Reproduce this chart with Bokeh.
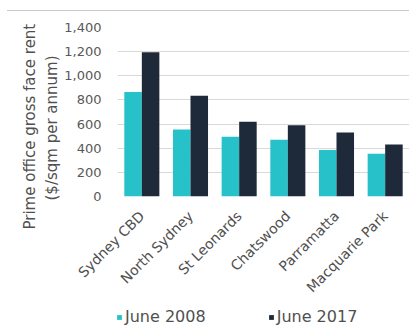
from bokeh.plotting import figure
from bokeh.layouts import column
from bokeh.models import (FactorRange, Range1d, FixedTicker, NumeralTickFormatter,
                          Legend, LegendItem, Title, InlineStyleSheet)
from bokeh.transform import dodge
from bokeh.embed import file_html
from bokeh.resources import INLINE
import math

# ---- data ----
regions = ["Sydney CBD", "North Sydney", "St Leonards", "Chatswood", "Parramatta", "Macquarie Park"]
june_2008 = [865, 555, 495, 470, 385, 355]
june_2017 = [1195, 835, 620, 590, 530, 430]
y_ticks = [0, 200, 400, 600, 800, 1000, 1200, 1400]
series_names = ["June 2008", "June 2017"]
y_title = ["Prime office gross face rent", "($/sqm per annum)"]

TEAL = "#27C1C9"
NAVY = "#1E2A3A"
FONT = "DejaVu Sans"
TXT = "#505050"

rule_css = InlineStyleSheet(css=""":host { position: relative; }
:host::before { content: ''; display: block; position: absolute; left: 7px; top: 10px;
  width: 402px; height: 1px; background: #c8c8c8; z-index: 1000; pointer-events: none; }""")

p = figure(width=409, height=307, x_range=FactorRange(*regions), y_range=Range1d(0, 1400),
           output_backend="svg", toolbar_location=None,
           min_border_left=117, min_border_right=0, min_border_top=27, min_border_bottom=111,
           stylesheets=[rule_css])
p.outline_line_color = None
p.background_fill_color = "white"
p.border_fill_color = None

src = dict(region=regions, a=june_2008, b=june_2017)
p.vbar(x=dodge("region", -0.18, range=p.x_range), top="a", width=0.36, source=src,
       fill_color=TEAL, line_color=None)
p.vbar(x=dodge("region", 0.18, range=p.x_range), top="b", width=0.36, source=src,
       fill_color=NAVY, line_color=None)

# axes
p.xgrid.grid_line_color = None
p.ygrid.grid_line_color = "#d9d9d9"
p.ygrid.ticker = FixedTicker(ticks=y_ticks)

p.yaxis.ticker = FixedTicker(ticks=y_ticks)
p.yaxis.formatter = NumeralTickFormatter(format="0,0")
p.yaxis.axis_line_color = None
p.yaxis.major_tick_line_color = None
p.yaxis.minor_tick_line_color = None
p.yaxis.major_tick_out = 0
p.yaxis.major_label_standoff = 16
p.yaxis.major_label_text_font = FONT
p.yaxis.major_label_text_font_size = "13px"
p.yaxis.major_label_text_color = "#595959"

# y title: two left-side lines, shifted down a little like the reference
for line, off in [(y_title[1], -4), (y_title[0], -33)]:
    p.add_layout(Title(text=line, align="left", offset=off, text_font=FONT,
                       text_font_size="15px", text_font_style="normal",
                       text_color=TXT, standoff=2), "left")

p.xaxis.axis_line_color = None
p.xaxis.major_tick_line_color = None
p.xaxis.major_tick_out = 0
p.xaxis.major_label_orientation = math.pi / 4
p.xaxis.major_label_standoff = 17
p.xaxis.major_label_text_font = FONT
p.xaxis.major_label_text_font_size = "14px"
p.xaxis.major_label_text_color = TXT

# legend strip underneath (its swatch renderers are hidden; only the legend shows)
lg = figure(width=409, height=22, x_range=p.x_range, y_range=Range1d(0, 1400),
            output_backend="svg", toolbar_location=None, x_axis_type=None, y_axis_type=None,
            min_border=0, min_border_left=0, min_border_right=0, min_border_top=0,
            min_border_bottom=0)
lg.outline_line_color = None
lg.border_fill_color = None
lg.xgrid.visible = False
lg.ygrid.visible = False
k1 = lg.vbar(x=dodge("region", -0.18, range=p.x_range), top="a", width=0.36, source=src,
             fill_color=TEAL, line_color=None, visible=False)
k2 = lg.vbar(x=dodge("region", 0.18, range=p.x_range), top="b", width=0.36, source=src,
             fill_color=NAVY, line_color=None, visible=False)
legend = Legend(items=[LegendItem(label=series_names[0], renderers=[k1]),
                       LegendItem(label=series_names[1], renderers=[k2])],
                orientation="horizontal", location=(-1, 3),
                glyph_width=6, glyph_height=6, label_standoff=3, spacing=62,
                padding=0, margin=0, border_line_color=None, background_fill_alpha=0,
                label_text_font=FONT, label_text_font_size="16px", label_text_color=TXT)
lg.add_layout(legend, "center")

layout = column(p, lg, spacing=0, stylesheets=[rule_css])
open("out.html", "w").write(file_html(layout, INLINE))
